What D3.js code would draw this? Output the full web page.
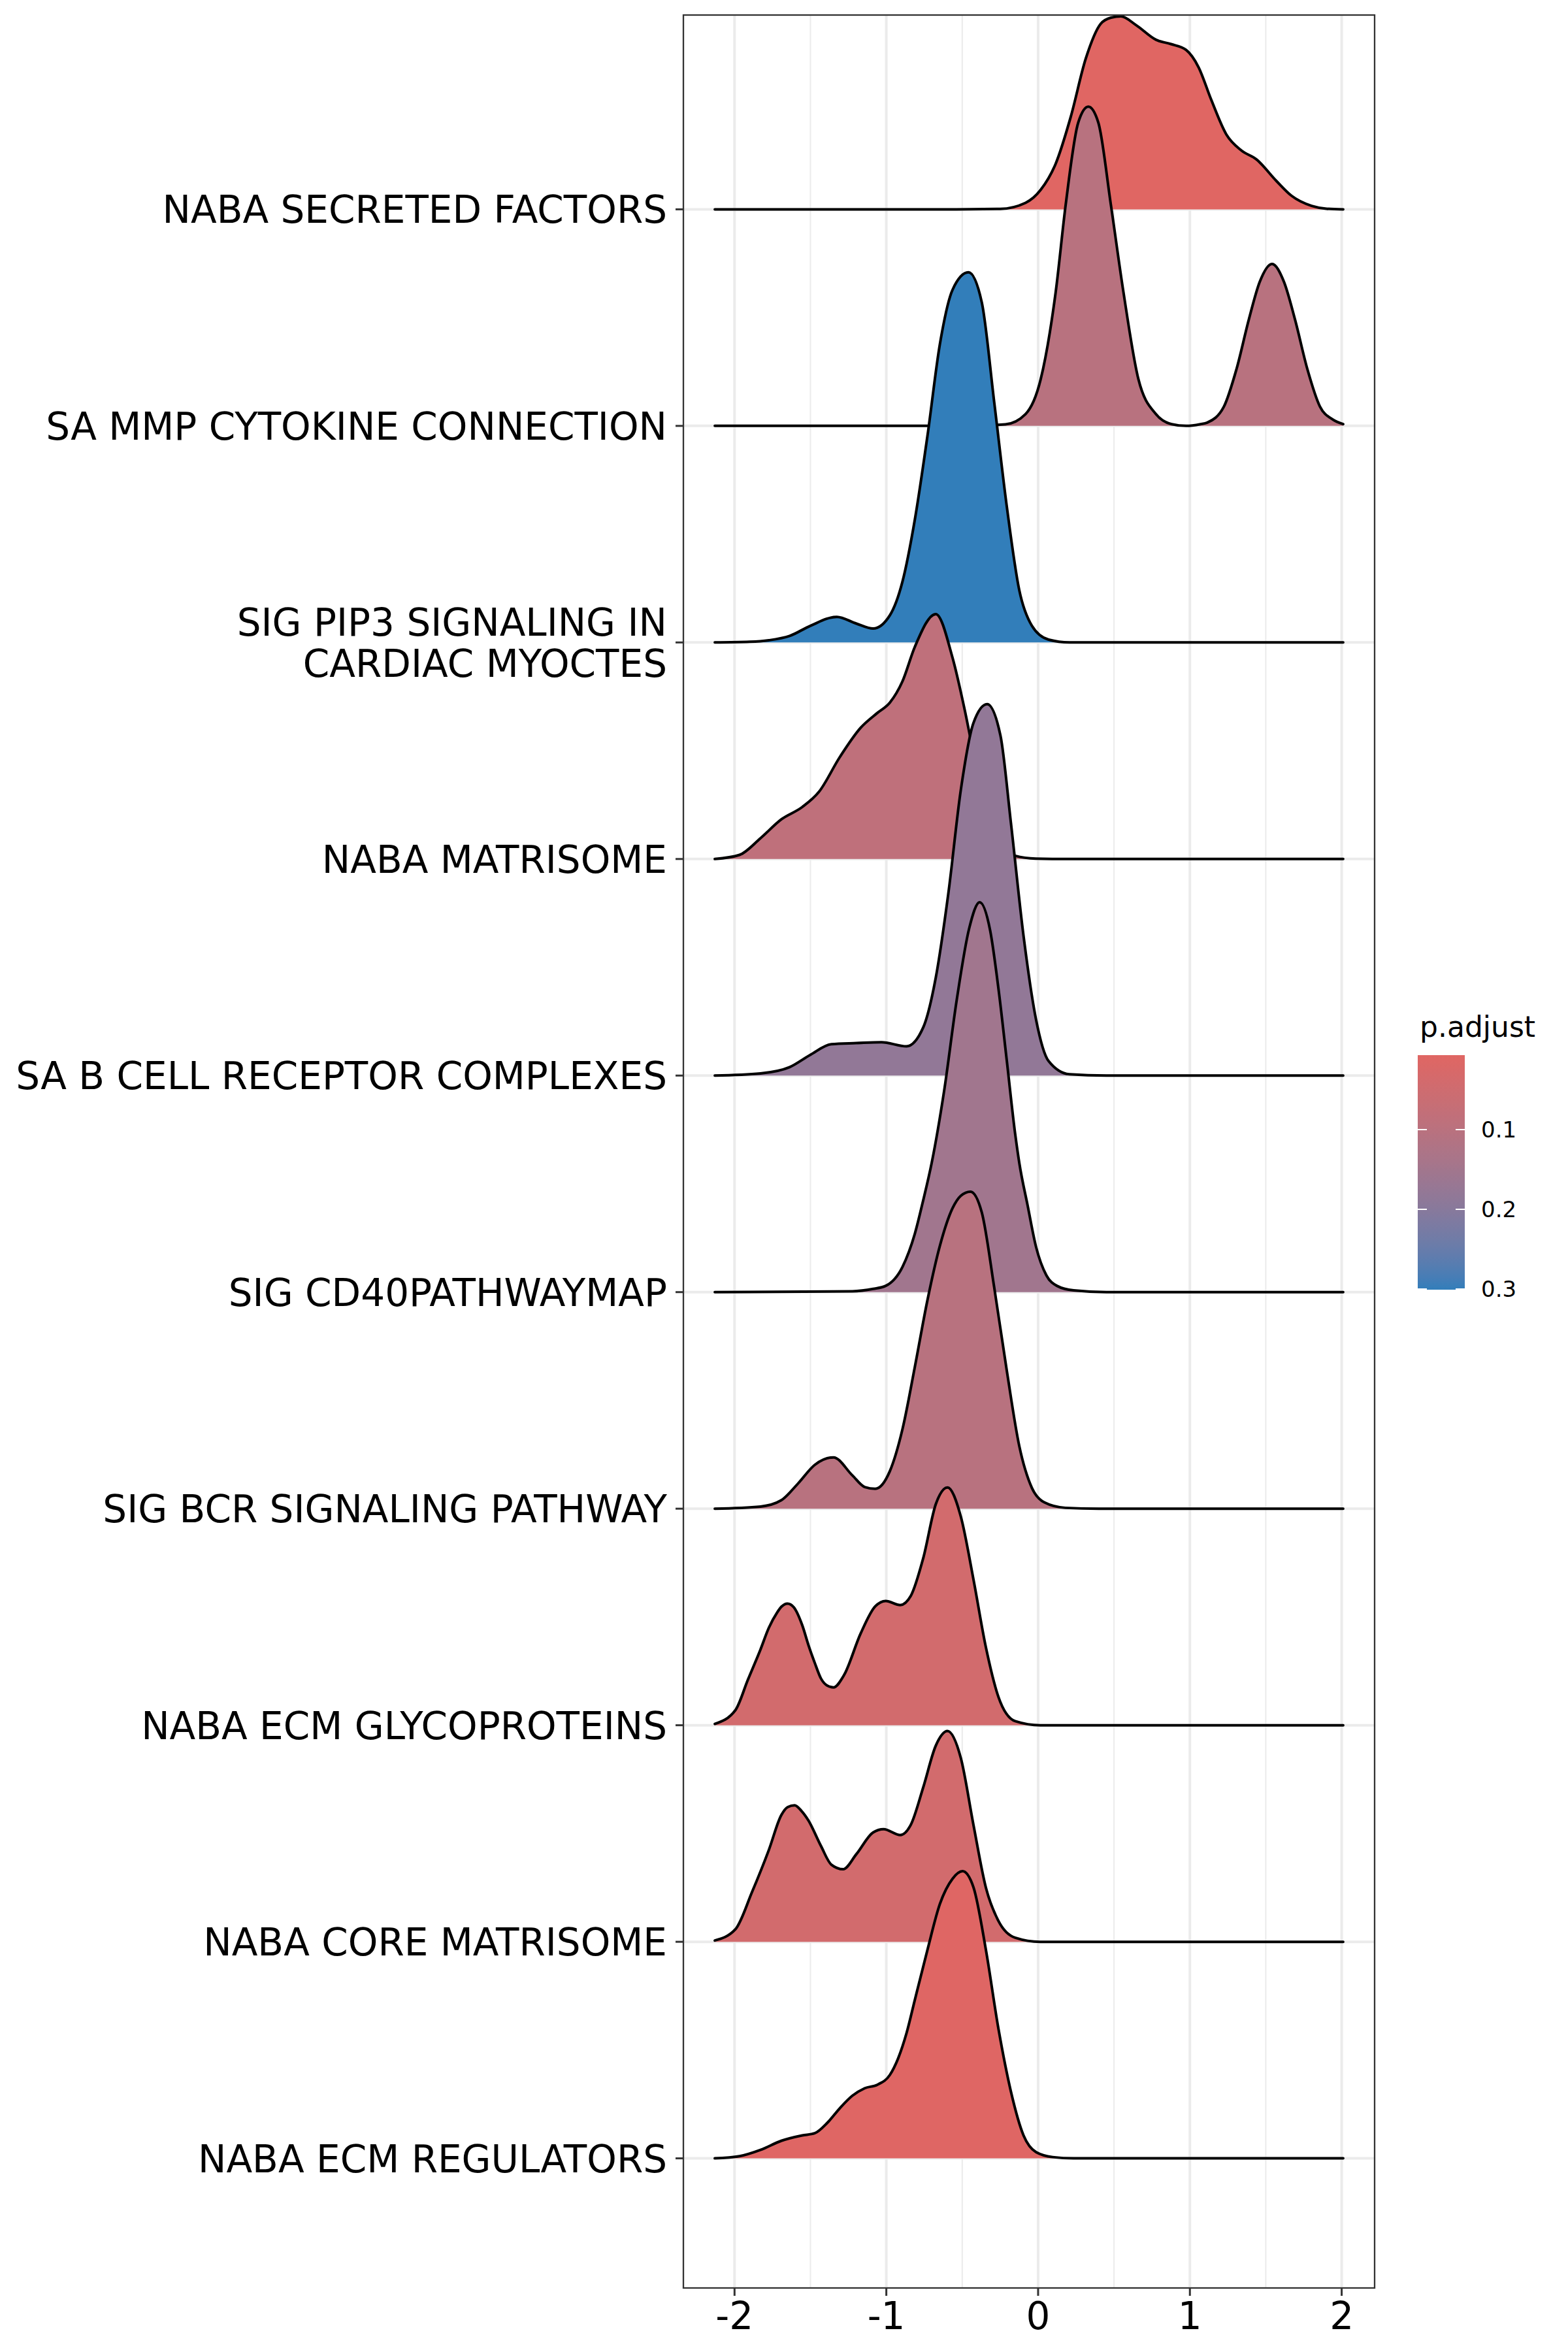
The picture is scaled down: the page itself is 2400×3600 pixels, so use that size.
<!DOCTYPE html>
<html>
<head>
<meta charset="utf-8">
<script src="https://cdn.jsdelivr.net/npm/d3@7"></script>
<style>
  body { margin: 0; background: #fff; }
  text { font-family: "DejaVu Sans", sans-serif; }
</style>
</head>
<body>
<div id="chart"></div>
<script>
// pathway names, top to bottom
var categories = [
  "NABA SECRETED FACTORS",
  "SA MMP CYTOKINE CONNECTION",
  "SIG PIP3 SIGNALING IN\nCARDIAC MYOCTES",
  "NABA MATRISOME",
  "SA B CELL RECEPTOR COMPLEXES",
  "SIG CD40PATHWAYMAP",
  "SIG BCR SIGNALING PATHWAY",
  "NABA ECM GLYCOPROTEINS",
  "NABA CORE MATRISOME",
  "NABA ECM REGULATORS"
];

var pAdjust = [0.0066, 0.103, 0.3008, 0.088, 0.182, 0.153, 0.103, 0.041, 0.041, 0.009];

// density outlines: [log2 fold change, height in ridge steps]
var ridgeSecreted = [[-2.13,0],[-0.6,0],[-0.25,0.002],[-0.083,0.03],[0.017,0.09],[0.116,0.211],[0.215,0.427],[0.314,0.696],[0.413,0.857],[0.48,0.885],[0.545,0.891],[0.645,0.851],[0.777,0.783],[0.876,0.763],[0.975,0.736],[1.058,0.655],[1.14,0.507],[1.24,0.346],[1.339,0.272],[1.438,0.231],[1.57,0.131],[1.669,0.063],[1.802,0.016],[1.9,0.003],[2.01,0]];
var ridgeMmp = [[-2.13,0],[-0.5,0],[-0.215,0.007],[-0.083,0.054],[0.017,0.215],[0.116,0.619],[0.182,1.023],[0.264,1.40],[0.331,1.474],[0.397,1.40],[0.479,1.023],[0.562,0.619],[0.661,0.215],[0.777,0.054],[0.88,0.008],[0.975,0],[1.07,0.008],[1.114,0.015],[1.224,0.089],[1.307,0.262],[1.389,0.493],[1.46,0.665],[1.541,0.748],[1.62,0.665],[1.692,0.493],[1.774,0.262],[1.857,0.089],[1.94,0.03],[2.01,0.008]];
var ridgePip3 = [[-2.13,0],[-1.9,0.003],[-1.774,0.01],[-1.637,0.03],[-1.5,0.077],[-1.326,0.118],[-1.197,0.087],[-1.087,0.064],[-0.977,0.125],[-0.894,0.28],[-0.812,0.568],[-0.729,0.954],[-0.647,1.378],[-0.564,1.628],[-0.459,1.709],[-0.371,1.57],[-0.289,1.108],[-0.206,0.626],[-0.124,0.241],[-0.041,0.077],[0.069,0.013],[0.206,0],[2.01,0]];
var ridgeMatrisome = [[-2.13,0],[-1.967,0.019],[-1.829,0.096],[-1.692,0.183],[-1.554,0.24],[-1.444,0.31],[-1.307,0.47],[-1.169,0.606],[-1.06,0.674],[-0.977,0.722],[-0.894,0.82],[-0.812,0.98],[-0.674,1.131],[-0.564,0.93],[-0.481,0.68],[-0.426,0.49],[-0.35,0.28],[-0.26,0.1],[-0.151,0.015],[-0.014,0.002],[0.2,0],[2.01,0]];
var ridgeBcell = [[-2.13,0],[-1.829,0.01],[-1.637,0.039],[-1.5,0.096],[-1.362,0.145],[-1.197,0.15],[-1.032,0.154],[-0.867,0.135],[-0.757,0.222],[-0.674,0.453],[-0.592,0.838],[-0.509,1.32],[-0.426,1.628],[-0.336,1.715],[-0.248,1.57],[-0.179,1.166],[-0.096,0.645],[-0.014,0.26],[0.069,0.067],[0.206,0.006],[0.45,0],[2.01,0]];
var ridgeCd40 = [[-2.13,0],[-1.224,0.004],[-1.087,0.015],[-1.004,0.029],[-0.894,0.116],[-0.812,0.27],[-0.757,0.424],[-0.701,0.597],[-0.619,0.93],[-0.536,1.35],[-0.454,1.68],[-0.385,1.8],[-0.316,1.67],[-0.261,1.40],[-0.206,1.067],[-0.151,0.73],[-0.124,0.597],[-0.069,0.40],[-0.014,0.21],[0.055,0.077],[0.124,0.029],[0.234,0.008],[0.45,0],[2.01,0]];
var ridgeBcr = [[-2.13,0],[-1.829,0.01],[-1.692,0.039],[-1.582,0.116],[-1.472,0.202],[-1.348,0.237],[-1.224,0.154],[-1.142,0.1],[-1.073,0.092],[-0.977,0.173],[-0.894,0.366],[-0.812,0.655],[-0.729,0.963],[-0.647,1.214],[-0.564,1.387],[-0.509,1.445],[-0.446,1.464],[-0.371,1.368],[-0.289,1.021],[-0.206,0.636],[-0.124,0.289],[-0.041,0.096],[0.041,0.029],[0.179,0.004],[0.4,0],[2.01,0]];
var ridgeGlyco = [[-2.13,0.006],[-1.994,0.07],[-1.912,0.21],[-1.829,0.35],[-1.774,0.45],[-1.72,0.52],[-1.69,0.548],[-1.651,0.562],[-1.61,0.545],[-1.554,0.462],[-1.513,0.37],[-1.472,0.289],[-1.43,0.215],[-1.389,0.183],[-1.348,0.175],[-1.279,0.231],[-1.169,0.424],[-1.073,0.549],[-1.004,0.574],[-0.908,0.555],[-0.839,0.597],[-0.757,0.771],[-0.674,1.021],[-0.597,1.098],[-0.509,0.963],[-0.426,0.674],[-0.344,0.36],[-0.261,0.13],[-0.151,0.019],[0.014,0],[2.01,0]];
var ridgeCore = [[-2.13,0.006],[-1.994,0.058],[-1.884,0.231],[-1.774,0.424],[-1.692,0.585],[-1.65,0.622],[-1.604,0.63],[-1.56,0.605],[-1.513,0.56],[-1.431,0.443],[-1.362,0.356],[-1.285,0.335],[-1.197,0.405],[-1.087,0.505],[-1.018,0.52],[-0.908,0.493],[-0.839,0.54],[-0.757,0.713],[-0.674,0.906],[-0.597,0.973],[-0.509,0.848],[-0.426,0.54],[-0.344,0.25],[-0.261,0.096],[-0.151,0.019],[0.014,0],[2.01,0]];
var ridgeRegulators = [[-2.13,0],[-1.967,0.01],[-1.829,0.039],[-1.692,0.081],[-1.554,0.106],[-1.472,0.116],[-1.389,0.164],[-1.307,0.231],[-1.224,0.289],[-1.142,0.324],[-1.059,0.34],[-0.977,0.385],[-0.922,0.462],[-0.867,0.578],[-0.812,0.732],[-0.729,0.963],[-0.647,1.175],[-0.564,1.291],[-0.498,1.326],[-0.426,1.252],[-0.344,0.963],[-0.261,0.597],[-0.179,0.308],[-0.096,0.106],[-0.014,0.029],[0.096,0.006],[0.234,0],[2.01,0]];

var xTicks = [-2, -1, 0, 1, 2];
var xMinor = [-1.5, -0.5, 0.5, 1.5];
var legendTicks = [0.1, 0.2, 0.3];

var ridges = [ridgeSecreted, ridgeMmp, ridgePip3, ridgeMatrisome, ridgeBcell,
              ridgeCd40, ridgeBcr, ridgeGlyco, ridgeCore, ridgeRegulators];

var width = 2400, height = 3600;
var panel = {left: 1046, right: 2104, top: 23, bottom: 3502};

var svg = d3.select("#chart").append("svg")
  .attr("width", width)
  .attr("height", height);

svg.append("rect").attr("width", width).attr("height", height).attr("fill", "#fff");

// x range of the data plus 5% either side, like ggplot
var xExt = [-2.13, 2.01];
var pad = (xExt[1] - xExt[0]) * 0.05;
var x = d3.scaleLinear()
  .domain([xExt[0] - pad, xExt[1] + pad])
  .range([panel.left, panel.right]);

var y = d3.scalePoint()
  .domain(categories)
  .range([320.4, 3303.6]);

var h = d3.scaleLinear().domain([0, 1]).range([0, y.step()]);

var pMin = 0.0066, pMax = 0.3008;
var color = d3.scaleLinear()
  .domain([pMin, pMax])
  .range(["#e06663", "#327eba"])
  .interpolate(d3.interpolateLab);

// grid
var grid = svg.append("g");
grid.selectAll(".minor").data(xMinor).enter().append("line")
  .attr("x1", d => x(d)).attr("x2", d => x(d))
  .attr("y1", panel.top).attr("y2", panel.bottom)
  .attr("stroke", "#ebebeb").attr("stroke-width", 2);
grid.selectAll(".major").data(xTicks).enter().append("line")
  .attr("x1", d => x(d)).attr("x2", d => x(d))
  .attr("y1", panel.top).attr("y2", panel.bottom)
  .attr("stroke", "#ebebeb").attr("stroke-width", 4);
grid.selectAll(".hmajor").data(categories).enter().append("line")
  .attr("x1", panel.left).attr("x2", panel.right)
  .attr("y1", d => y(d)).attr("y2", d => y(d))
  .attr("stroke", "#ebebeb").attr("stroke-width", 4);

svg.append("clipPath").attr("id", "clip")
  .append("rect")
  .attr("x", panel.left).attr("y", panel.top)
  .attr("width", panel.right - panel.left)
  .attr("height", panel.bottom - panel.top);

var plot = svg.append("g").attr("clip-path", "url(#clip)");

ridges.forEach(function(pts, i) {
  var base = y(categories[i]);
  var area = d3.area()
    .x(d => x(d[0]))
    .y0(base)
    .y1(d => base - h(d[1]))
    .curve(d3.curveMonotoneX);
  var line = d3.line()
    .x(d => x(d[0]))
    .y(d => base - h(d[1]))
    .curve(d3.curveMonotoneX);
  var g = plot.append("g");
  g.append("path").attr("d", area(pts))
    .attr("fill", color(pAdjust[i]));
  g.append("path").attr("d", line(pts))
    .attr("fill", "none")
    .attr("stroke", "#000")
    .attr("stroke-width", 4)
    .attr("stroke-linejoin", "round")
    .attr("stroke-linecap", "round");
});

// panel border
svg.append("rect")
  .attr("x", panel.left).attr("y", panel.top)
  .attr("width", panel.right - panel.left)
  .attr("height", panel.bottom - panel.top)
  .attr("fill", "none")
  .attr("stroke", "#333333")
  .attr("stroke-width", 2.3);

// y axis
var yAxis = svg.append("g");
categories.forEach(function(c) {
  var yy = y(c);
  yAxis.append("line")
    .attr("x1", panel.left - 12).attr("x2", panel.left)
    .attr("y1", yy).attr("y2", yy)
    .attr("stroke", "#333333").attr("stroke-width", 3);
  var lines = c.split("\n");
  var lh = 63;
  var t = yAxis.append("text")
    .attr("text-anchor", "end")
    .attr("font-size", 58)
    .attr("fill", "#000");
  lines.forEach(function(l, k) {
    t.append("tspan")
      .attr("x", panel.left - 25)
      .attr("y", yy + 21 - (lines.length - 1) * lh / 2 + k * lh)
      .text(l);
  });
});

// x axis
var xAxis = svg.append("g");
xTicks.forEach(function(v) {
  xAxis.append("line")
    .attr("x1", x(v)).attr("x2", x(v))
    .attr("y1", panel.bottom).attr("y2", panel.bottom + 12)
    .attr("stroke", "#333333").attr("stroke-width", 3);
  xAxis.append("text")
    .attr("x", x(v))
    .attr("y", 3565)
    .attr("text-anchor", "middle")
    .attr("font-size", 58)
    .attr("fill", "#000")
    .text(v);
});

// legend
var lg = svg.append("g");
var barX = 2170, barW = 72, barTop = 1615, barBot = 1974;
var cb = d3.scaleLinear().domain([pMin, pMax]).range([barTop, barBot]);

var grad = svg.append("defs").append("linearGradient")
  .attr("id", "grad")
  .attr("x1", "0%").attr("y1", "0%")
  .attr("x2", "0%").attr("y2", "100%");
d3.range(0, 1.0001, 0.05).forEach(function(f) {
  grad.append("stop")
    .attr("offset", (f * 100) + "%")
    .attr("stop-color", color(pMin + f * (pMax - pMin)));
});

lg.append("text")
  .attr("x", 2173).attr("y", 1587)
  .attr("font-size", 44)
  .attr("fill", "#000")
  .text("p.adjust");

lg.append("rect")
  .attr("x", barX).attr("y", barTop)
  .attr("width", barW).attr("height", barBot - barTop)
  .attr("fill", "url(#grad)");

legendTicks.forEach(function(v) {
  var ty = cb(v);
  lg.append("line")
    .attr("x1", barX).attr("x2", barX + 14)
    .attr("y1", ty).attr("y2", ty)
    .attr("stroke", "#fff").attr("stroke-width", 2);
  lg.append("line")
    .attr("x1", barX + barW - 14).attr("x2", barX + barW)
    .attr("y1", ty).attr("y2", ty)
    .attr("stroke", "#fff").attr("stroke-width", 2);
  lg.append("text")
    .attr("x", 2267).attr("y", ty + 12.4)
    .attr("font-size", 34)
    .attr("fill", "#000")
    .text(v);
});
</script>
</body>
</html>
